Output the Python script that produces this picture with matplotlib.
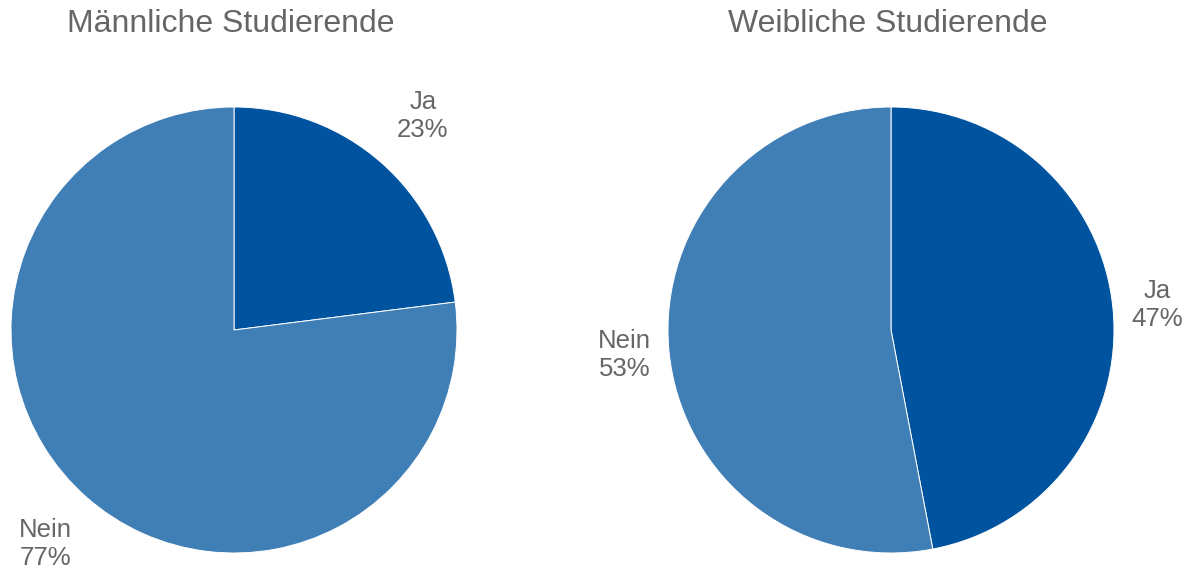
import numpy as np
import matplotlib.pyplot as plt

plt.rcParams['font.family'] = ['Liberation Sans', 'DejaVu Sans']

# data
titles = ['Männliche Studierende', 'Weibliche Studierende']
categories = ['Ja', 'Nein']
shares = [[23, 77], [47, 53]]
colors = ['#00539F', '#407EB6']
text_color = '#666666'

W, H = 1195, 569
fig = plt.figure(figsize=(W / 100, H / 100), dpi=100)

# pie centers in pixels, radius, label distance per chart
centers = [(234, 330), (891, 330)]
radius = 223
label_dist = [1.28, 1.2]

for i in range(2):
    cx, cy = centers[i]
    ax = fig.add_axes([(cx - radius) / W, (H - cy - radius) / H, 2 * radius / W, 2 * radius / H])
    wedges, _ = ax.pie(shares[i], colors=colors, startangle=90, counterclock=False,
                       radius=1, wedgeprops=dict(edgecolor='white', linewidth=0.7))
    total = sum(shares[i])
    for w, cat, v in zip(wedges, categories, shares[i]):
        ang = np.deg2rad((w.theta1 + w.theta2) / 2)
        x = label_dist[i] * np.cos(ang)
        y = label_dist[i] * np.sin(ang)
        ax.text(x, y, f'{cat}\n{round(v / total * 100)}%', ha='center', va='center',
                fontsize=18.5, color=text_color, linespacing=1.2, clip_on=False)
    ax.set_xlim(-1, 1)
    ax.set_ylim(-1, 1)
    ax.set_aspect('equal')
    fig.text((cx - 3) / W, 1 - 24 / H, titles[i], ha='center', va='center',
             fontsize=23, color=text_color)

plt.savefig('out.png', dpi=100)
